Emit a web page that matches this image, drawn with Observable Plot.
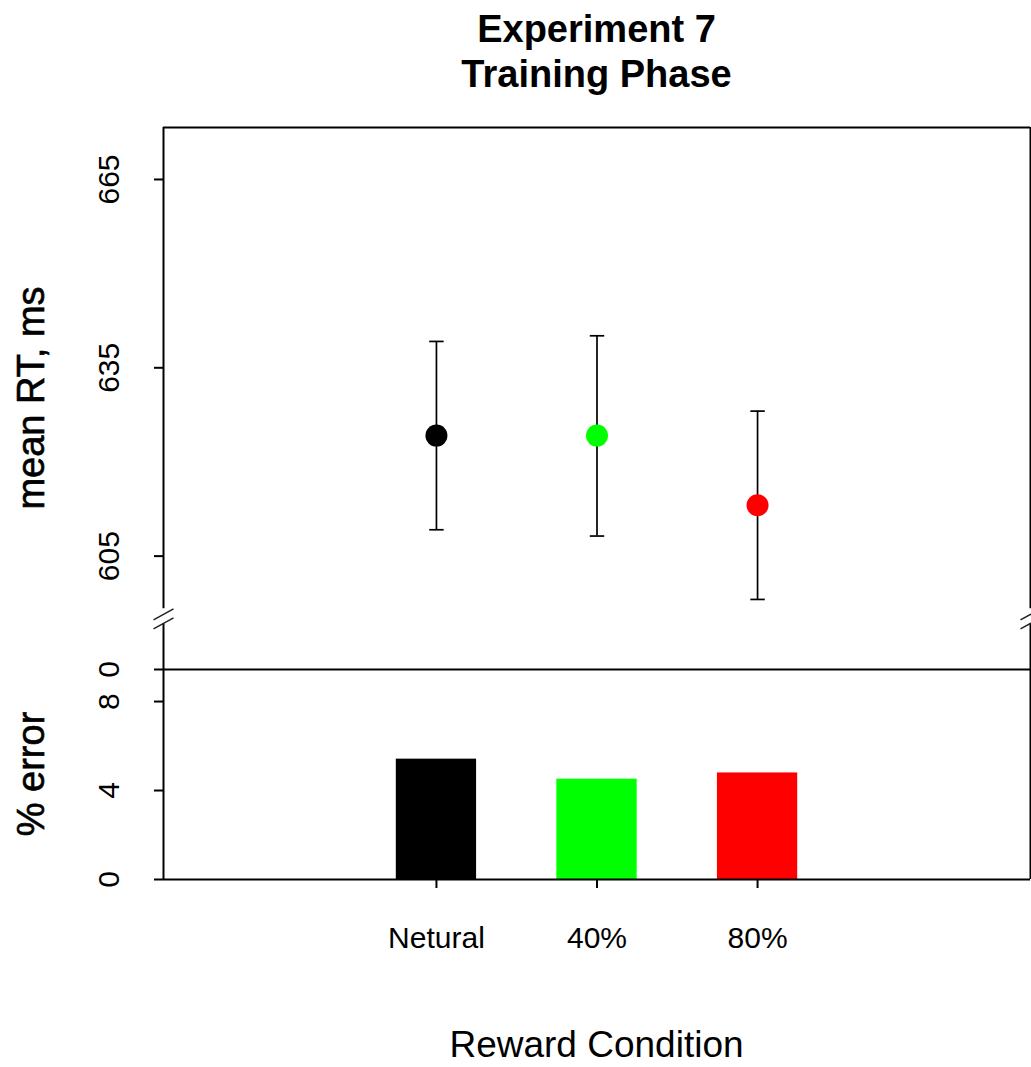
<!DOCTYPE html>
<html>
<head>
<meta charset="utf-8">
<script src="https://cdn.jsdelivr.net/npm/d3@7"></script>
<script src="https://cdn.jsdelivr.net/npm/@observablehq/plot@0.6"></script>
<style>
html, body { margin: 0; padding: 0; background: #fff; }
#wrap { position: relative; width: 1031px; height: 1067px; overflow: hidden;
  font-family: "Liberation Sans", Arial, sans-serif; color: #000; background: #fff; }
#title { position: absolute; left: 163px; width: 867px; top: 7px; text-align: center;
  font-weight: bold; font-size: 38px; line-height: 45px; }
.ylab { position: absolute; font-size: 38px; line-height: 38px; white-space: nowrap;
  -webkit-text-stroke: 0.6px #000;
  transform: translate(-50%, -50%) rotate(-90deg); }
#xlab { position: absolute; left: 163px; width: 867px; top: 1030px; text-align: center;
  font-size: 37px; line-height: 30px; }
.panel { position: absolute; left: 0; }
</style>
</head>
<body>
<div id="wrap">
  <div id="title">Experiment 7<br>Training Phase</div>
  <div class="ylab" style="left:31px; top:398px;">mean RT, ms</div>
  <div class="ylab" style="left:31px; top:774px;">% error</div>
  <div id="xlab">Reward Condition</div>
</div>
<script>
// ---- data ----
const conditions = ["Netural", "40%", "80%"];
const colors = ["#000000", "#00ff00", "#ff0000"];
const rtMean = [624.2, 624.2, 613.1];
const rtLow = [609.2, 608.2, 598.1];
const rtHigh = [639.2, 640.1, 628.1];
const errorPct = [5.41, 4.51, 4.79];
const rtTicks = [605, 635, 665];
const errTicks = [0, 4, 8];
const errTopLabel = "0";

// ---- scale settings ----
const xDomain = [-0.7, 4.7];
const rtDomain = [586.94, 673.28];
const rtGap = [594.2, 596.6];
const rtBreakAt = 595.0;
const errMax = 9.44;
const barHalf = 0.25;
const capHalf = 0.045;

const rtData = conditions.map((c, i) => ({cond: c, pos: i + 1, color: colors[i], mean: rtMean[i], lo: rtLow[i], hi: rtHigh[i]}));
const errData = conditions.map((c, i) => ({cond: c, pos: i + 1, color: colors[i], err: errorPct[i]}));

const breakSymbol = {
  draw(ctx) {
    for (const dy of [-4.5, 4.5]) {
      ctx.moveTo(-10, 5.5 + dy);
      ctx.lineTo(10, -5.5 + dy);
    }
  }
};

const font = "'Liberation Sans', Arial, sans-serif";
const common = {
  width: 1031, marginLeft: 163, marginRight: 1,
  style: {background: "transparent", overflow: "visible", fontFamily: font, fontSize: "30px", color: "#000"},
  color: {type: "identity"}
};

const upper = Plot.plot({
  ...common,
  height: 569, marginTop: 27, marginBottom: 0,
  x: {domain: xDomain, axis: null},
  y: {domain: rtDomain},
  marks: [
    Plot.ruleY([rtDomain[1]], {strokeWidth: 2}),
    Plot.ruleX([xDomain[0], xDomain[1]], {y1: rtGap[1], y2: rtDomain[1], strokeWidth: 2}),
    Plot.ruleX([xDomain[0], xDomain[1]], {y1: rtDomain[0], y2: rtGap[0], strokeWidth: 2}),
    Plot.dot([rtBreakAt], {y: d => d, frameAnchor: "left", symbol: breakSymbol, r: 10, fill: "none", stroke: "#222", strokeWidth: 1.5}),
    Plot.dot([rtBreakAt], {y: d => d, frameAnchor: "right", symbol: breakSymbol, r: 10, fill: "none", stroke: "#222", strokeWidth: 1.5}),
    Plot.ruleX(rtData, {x: "pos", y1: "lo", y2: "hi", strokeWidth: 1.7}),
    Plot.link(rtData, {x1: d => d.pos - capHalf, x2: d => d.pos + capHalf, y1: "hi", y2: "hi", strokeWidth: 1.7}),
    Plot.link(rtData, {x1: d => d.pos - capHalf, x2: d => d.pos + capHalf, y1: "lo", y2: "lo", strokeWidth: 1.7}),
    Plot.dot(rtData, {x: "pos", y: "mean", r: 11, fill: "color", stroke: null}),
    Plot.axisY({ticks: rtTicks, tickSize: 9, tickPadding: 36, tickRotate: -90, strokeWidth: 2, label: null, fontSize: 30})
  ]
});

const lower = Plot.plot({
  ...common,
  height: 467, marginTop: 69, marginBottom: 188,
  x: {domain: xDomain},
  y: {domain: [0, errMax]},
  marks: [
    Plot.rectY(errData, {x1: d => d.pos - barHalf, x2: d => d.pos + barHalf, y1: 0, y2: "err", fill: "color"}),
    Plot.ruleY([0, errMax], {strokeWidth: 2}),
    Plot.ruleX([xDomain[0], xDomain[1]], {y1: 0, y2: errMax, strokeWidth: 2}),
    Plot.axisY({ticks: [...errTicks, errMax], tickFormat: d => d === errMax ? errTopLabel : String(d),
      tickSize: 9, tickPadding: 36, tickRotate: -90, strokeWidth: 2, label: null, fontSize: 30}),
    Plot.axisX({ticks: [1, 2, 3], tickFormat: d => conditions[d - 1],
      tickSize: 9, tickPadding: 38, strokeWidth: 2, label: null, fontSize: 30})
  ]
});

upper.classList.add("panel");
upper.style.top = "100px";
lower.classList.add("panel");
lower.style.top = "600px";
const wrap = document.getElementById("wrap");
wrap.appendChild(lower);
wrap.appendChild(upper);
</script>
</body>
</html>
